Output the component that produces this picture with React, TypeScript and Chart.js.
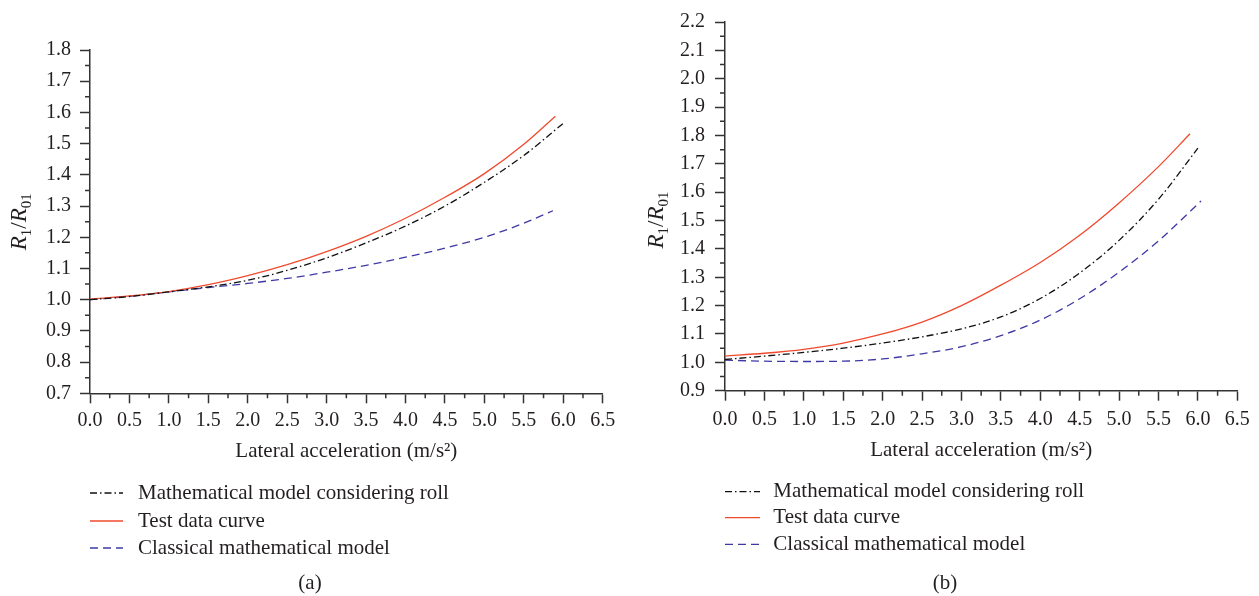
import React, { useEffect, useRef } from 'react';
import { Chart, registerables } from 'chart.js';

Chart.register(...registerables);

// ---------- data ----------
const SERIES_LABELS = [
  'Mathematical model considering roll',
  'Test data curve',
  'Classical mathematical model',
];

// Panel (a)
const A_ROLL_X = [0, 0.5, 1, 1.5, 2, 2.5, 3, 3.5, 4, 4.5, 5, 5.5, 6.0];
const A_ROLL_Y = [1.0, 1.01, 1.025, 1.041, 1.062, 1.094, 1.134, 1.182, 1.236, 1.3, 1.376, 1.462, 1.565];
const A_TEST_X = [0, 0.5, 1, 1.5, 2, 2.5, 3, 3.5, 4, 4.5, 5, 5.5, 5.9];
const A_TEST_Y = [1.002, 1.012, 1.026, 1.048, 1.077, 1.112, 1.154, 1.203, 1.261, 1.328, 1.404, 1.498, 1.588];
const A_CLASS_X = [0, 0.5, 1, 1.5, 2, 2.5, 3, 3.5, 4, 4.5, 5, 5.5, 5.87];
const A_CLASS_Y = [1.0, 1.011, 1.025, 1.039, 1.052, 1.068, 1.088, 1.11, 1.136, 1.165, 1.2, 1.245, 1.285];
const A_Y_RANGE = [0.7, 1.8];

// Panel (b)
const B_ROLL_X = [0, 0.5, 1, 1.5, 2, 2.5, 3, 3.5, 4, 4.5, 5, 5.5, 6.0];
const B_ROLL_Y = [1.01, 1.022, 1.035, 1.05, 1.068, 1.09, 1.118, 1.16, 1.225, 1.315, 1.43, 1.575, 1.755];
const B_TEST_X = [0, 0.5, 1, 1.5, 2, 2.5, 3, 3.5, 4, 4.5, 5, 5.5, 5.9];
const B_TEST_Y = [1.022, 1.032, 1.046, 1.068, 1.1, 1.142, 1.2, 1.272, 1.352, 1.448, 1.562, 1.69, 1.806];
const B_CLASS_X = [0, 0.5, 1, 1.5, 2, 2.5, 3, 3.5, 4, 4.5, 5, 5.5, 6.04];
const B_CLASS_Y = [1.008, 1.004, 1.003, 1.004, 1.012, 1.03, 1.055, 1.094, 1.149, 1.224, 1.318, 1.428, 1.569];
const B_Y_RANGE = [0.9, 2.2];

const X_RANGE = [0, 6.5];
const X_STEP = 0.5;
const Y_STEP = 0.1;
const X_TITLE = 'Lateral acceleration (m/s\u00B2)';
const CAPTIONS = ['(a)', '(b)'];

// ---------- styles ----------
const FONT = 'Liberation Serif, Times New Roman, serif';
const TEXT = '#231f20';
const AXIS = '#333333';
const RED = 'rgb(240,74,46)';
const BLUE = 'rgb(62,56,165)';
const BLACK = '#111111';
const ROLL_DASH = [7, 3, 1.5, 3];
const CLASS_DASH = [8, 5];

function pts(xs: number[], ys: number[]) {
  return xs.map((x, i) => ({ x, y: ys[i] }));
}

type Panel = {
  left: number;
  width: number;
  padRight: number;
  padTop: number;
  padBottom: number;
  yWidth: number;
  xHeight: number;
  yTickPad: number;
  xTickPad: number;
  yRange: number[];
  series: { x: number[]; y: number[] }[];
  yTitleX: number;
  yTitleY: number;
  legendSample: number[];
  legendTextX: number;
  legendRows: number[];
  caption: string;
  captionX: number;
  captionY: number;
};

const PANELS: Panel[] = [
  {
    left: 0,
    width: 640,
    padRight: 37.3,
    padTop: 50,
    padBottom: 131.7,
    yWidth: 90,
    xHeight: 71,
    yTickPad: 9,
    xTickPad: 5,
    yRange: A_Y_RANGE,
    series: [
      { x: A_ROLL_X, y: A_ROLL_Y },
      { x: A_TEST_X, y: A_TEST_Y },
      { x: A_CLASS_X, y: A_CLASS_Y },
    ],
    yTitleX: 26,
    yTitleY: 221.7,
    legendSample: [90, 123],
    legendTextX: 138,
    legendRows: [493, 521, 548],
    caption: CAPTIONS[0],
    captionX: 310,
    captionY: 583,
  },
  {
    left: 640,
    width: 619,
    padRight: 21.7,
    padTop: 21.7,
    padBottom: 133.4,
    yWidth: 85,
    xHeight: 71.9,
    yTickPad: 10,
    xTickPad: 7,
    yRange: B_Y_RANGE,
    series: [
      { x: B_ROLL_X, y: B_ROLL_Y },
      { x: B_TEST_X, y: B_TEST_Y },
      { x: B_CLASS_X, y: B_CLASS_Y },
    ],
    yTitleX: 22.5,
    yTitleY: 220,
    legendSample: [85, 120],
    legendTextX: 133.3,
    legendRows: [491.7, 517.7, 544.3],
    caption: CAPTIONS[1],
    captionX: 305,
    captionY: 583,
  },
];

const STYLES = [
  { color: BLACK, dash: ROLL_DASH },
  { color: RED, dash: [] as number[] },
  { color: BLUE, dash: CLASS_DASH },
];

function makeDecor(p: Panel) {
  return {
    id: 'decor',
    afterDraw(chart: any) {
      const ctx = chart.ctx as CanvasRenderingContext2D;
      const xs = chart.scales.x;
      const ys = chart.scales.y;
      const area = chart.chartArea;
      ctx.save();
      // minor ticks
      ctx.strokeStyle = AXIS;
      ctx.lineWidth = 1.5;
      ctx.beginPath();
      const ny = Math.round((ys.max - ys.min) / (Y_STEP / 2));
      for (let i = 1; i < ny; i += 2) {
        const y = ys.getPixelForValue(ys.min + (i * Y_STEP) / 2);
        ctx.moveTo(area.left - 5, y);
        ctx.lineTo(area.left, y);
      }
      const nx = Math.round((xs.max - xs.min) / (X_STEP / 2));
      for (let i = 1; i < nx; i += 2) {
        const x = xs.getPixelForValue(xs.min + (i * X_STEP) / 2);
        ctx.moveTo(x, area.bottom);
        ctx.lineTo(x, area.bottom + 5);
      }
      ctx.stroke();

      // y title: R1/R01 (rotated)
      ctx.fillStyle = TEXT;
      ctx.translate(p.yTitleX, p.yTitleY);
      ctx.rotate(-Math.PI / 2);
      const parts = [
        { t: 'R', f: `italic 23px ${FONT}`, dy: 0 },
        { t: '1', f: `15px ${FONT}`, dy: 5 },
        { t: '/', f: `23px ${FONT}`, dy: 0 },
        { t: 'R', f: `italic 23px ${FONT}`, dy: 0 },
        { t: '01', f: `15px ${FONT}`, dy: 5 },
      ];
      let total = 0;
      for (const pt of parts) {
        ctx.font = pt.f;
        total += ctx.measureText(pt.t).width;
      }
      let cx = -total / 2;
      ctx.textBaseline = 'alphabetic';
      ctx.textAlign = 'left';
      for (const pt of parts) {
        ctx.font = pt.f;
        ctx.fillText(pt.t, cx, pt.dy);
        cx += ctx.measureText(pt.t).width;
      }
      ctx.setTransform(1, 0, 0, 1, 0, 0);

      // legend
      ctx.font = `21px ${FONT}`;
      ctx.textBaseline = 'middle';
      chart.data.datasets.forEach((ds: any, i: number) => {
        const y = p.legendRows[i];
        ctx.strokeStyle = ds.borderColor;
        ctx.lineWidth = 1.3;
        ctx.setLineDash(ds.borderDash || []);
        ctx.beginPath();
        ctx.moveTo(p.legendSample[0], y);
        ctx.lineTo(p.legendSample[1], y);
        ctx.stroke();
        ctx.setLineDash([]);
        ctx.fillStyle = TEXT;
        ctx.fillText(ds.label, p.legendTextX, y);
      });

      // caption
      ctx.textAlign = 'center';
      ctx.fillText(p.caption, p.captionX, p.captionY);
      ctx.restore();
    },
  };
}

function PanelChart({ p }: { p: Panel }) {
  const ref = useRef<HTMLCanvasElement>(null);
  useEffect(() => {
    const tickFont = { family: FONT, size: 20 };
    const chart = new Chart(ref.current as HTMLCanvasElement, {
      type: 'line',
      data: {
        datasets: p.series.map((s, i) => ({
          label: SERIES_LABELS[i],
          data: pts(s.x, s.y),
          borderColor: STYLES[i].color,
          borderDash: STYLES[i].dash,
          borderWidth: 1.3,
          pointRadius: 0,
          fill: false,
          cubicInterpolationMode: 'monotone' as const,
        })),
      },
      options: {
        responsive: false,
        animation: false,
        layout: { padding: { left: 0, right: p.padRight, top: p.padTop, bottom: p.padBottom } },
        plugins: { legend: { display: false }, tooltip: { enabled: false } },
        scales: {
          x: {
            type: 'linear',
            min: X_RANGE[0],
            max: X_RANGE[1],
            ticks: {
              stepSize: X_STEP,
              autoSkip: false,
              maxRotation: 0,
              padding: p.xTickPad,
              color: TEXT,
              font: tickFont,
              callback: (v: any) => Number(v).toFixed(1),
            },
            grid: { drawOnChartArea: false, tickLength: 10, tickColor: AXIS, tickWidth: 1.5 },
            border: { color: AXIS, width: 1.5 },
            title: { display: true, text: X_TITLE, color: TEXT, font: { family: FONT, size: 21 }, padding: 0 },
            afterFit: (s: any) => {
              s.height = p.xHeight;
            },
          },
          y: {
            type: 'linear',
            min: p.yRange[0],
            max: p.yRange[1],
            ticks: {
              stepSize: Y_STEP,
              autoSkip: false,
              padding: p.yTickPad,
              color: TEXT,
              font: tickFont,
              callback: (v: any) => Number(v).toFixed(1),
            },
            grid: { drawOnChartArea: false, tickLength: 10, tickColor: AXIS, tickWidth: 1.5 },
            border: { color: AXIS, width: 1.5 },
            afterFit: (s: any) => {
              s.width = p.yWidth;
            },
          },
        },
      },
      plugins: [makeDecor(p)],
    } as any);
    return () => chart.destroy();
  }, [p]);
  return (
    <canvas
      ref={ref}
      width={p.width}
      height={596}
      style={{ position: 'absolute', left: p.left, top: 0, width: p.width, height: 596 }}
    />
  );
}

export default function App() {
  return (
    <div style={{ position: 'fixed', left: 0, top: 0, width: 1259, height: 596, background: '#fff' }}>
      {PANELS.map((p, i) => (
        <PanelChart key={i} p={p} />
      ))}
    </div>
  );
}
